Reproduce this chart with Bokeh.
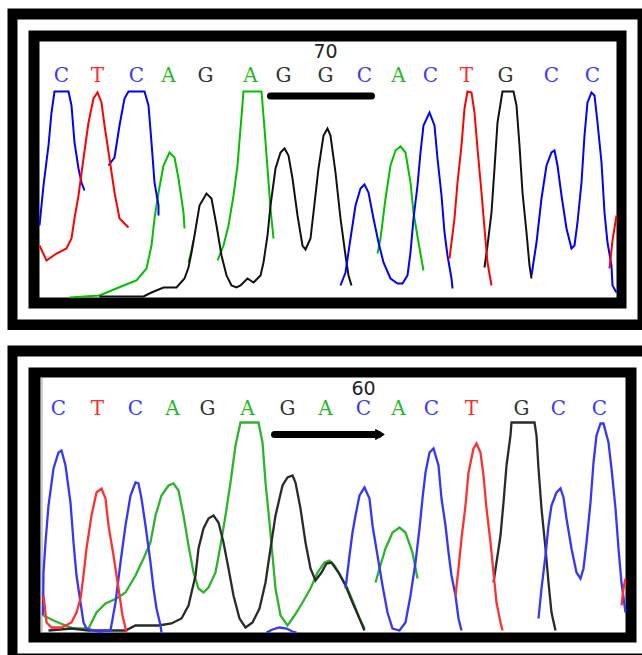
import math
from bokeh.plotting import figure
from bokeh.layouts import column
from bokeh.models import Range1d
from bokeh.embed import file_html
from bokeh.resources import INLINE
from bokeh.core.properties import value

# ================= DATA =================
# x = scan position, y = signal above baseline
# ---- upper chromatogram (position 70) ----
top_bases = list("CTCAGAGGCACTGCC")
top_base_x = [61, 97, 136, 168, 205, 250, 283, 325, 364, 398, 430, 466, 505, 551, 592]
top_label = "70"
top_label_x = 325
top_arrow_x = [270, 371]

top_c_x = [[39, 43, 48, 51, 54, 68, 71, 74, 78, 81, 84],
           [108, 114, 119, 124, 128, 144, 148, 151, 154, 158, 158],
           [340, 345, 350, 355, 360, 364, 368, 373, 378, 383, 390, 397, 402, 407, 410, 413, 417, 420, 423, 429, 434, 437, 441, 444, 447, 451, 452],
           [531, 536, 541, 546, 551, 554, 557, 561, 566, 571, 574, 577, 581, 584, 587, 591, 594, 597, 601, 604, 607, 611, 612, 616]]
top_c_y = [[72, 112, 152, 185, 206, 206, 192, 155, 129, 115, 107],
           [132, 140, 172, 199, 206, 206, 192, 155, 115, 92, 82],
           [12, 25, 59, 92, 109, 113, 105, 79, 55, 35, 19, 14, 14, 22, 45, 79, 112, 145, 172, 185, 172, 139, 102, 65, 42, 19, 9],
           [22, 55, 99, 132, 145, 147, 132, 102, 69, 49, 52, 75, 115, 162, 195, 205, 202, 175, 135, 85, 55, 32, 12, 5]]

top_t_x = [[39, 46, 56, 66, 71, 74, 78, 83, 88, 93, 97, 101, 104, 109, 114, 119, 128],
           [449, 454, 457, 461, 464, 467, 471, 474, 477, 481, 484, 487, 491],
           [609, 612, 616]]
top_t_y = [[52, 37, 44, 49, 59, 79, 102, 139, 175, 199, 205, 195, 172, 139, 105, 79, 70],
           [39, 79, 115, 152, 189, 206, 205, 185, 149, 105, 69, 35, 12],
           [29, 57, 82]]

top_a_x = [[69, 99, 123, 136, 146, 151, 154, 158, 163, 169, 174, 178, 183, 184],
           [188, 191, 193],
           [217, 223, 228, 233, 237, 240, 243, 261, 264, 267, 270, 273],
           [377, 380, 385, 390, 395, 400, 405, 410, 413, 418, 423]]
top_a_y = [[0, 2, 12, 17, 29, 52, 79, 105, 132, 145, 140, 119, 85, 69],
           [35, 47, 57],
           [37, 52, 72, 102, 132, 169, 206, 206, 169, 129, 89, 59],
           [44, 59, 99, 132, 147, 151, 145, 115, 85, 55, 27]]

top_g_x = [[99, 143, 151, 163, 176, 184, 188, 191, 194, 199, 206, 211, 216, 221, 226, 231, 236, 240, 247, 253,
            260, 263, 267, 270, 275, 280, 284, 288, 292, 297, 302, 305, 310, 313, 318, 323, 327, 330, 335, 340,
            345, 348, 351],
           [484, 487, 491, 494, 497, 501, 502, 513, 516, 519, 522, 526, 529, 531]]
top_g_y = [[1, 1, 5, 10, 10, 19, 30, 45, 62, 92, 104, 99, 72, 42, 22, 12, 10, 12, 19, 15,
            22, 35, 62, 92, 129, 145, 149, 142, 119, 82, 52, 48, 59, 85, 129, 162, 169, 162, 125, 79,
            42, 22, 12],
           [30, 52, 85, 129, 175, 200, 206, 206, 192, 152, 105, 65, 32, 19]]

# ---- lower chromatogram (position 60) ----
bot_bases = list("CTCAGAGACACTGCC")
bot_base_x = [58, 97, 135, 172, 207, 247, 287, 325, 363, 398, 431, 471, 521, 558, 599]
bot_label = "60"
bot_label_x = 363
bot_arrow_x = [274, 378]

bot_c_x = [[42.5, 43, 45, 48, 53, 58, 61, 65, 70, 73, 76, 80, 83, 86, 98, 110, 115, 120, 125, 130,
            135, 138, 141, 145, 150, 153, 156, 160, 161],
           [266, 272, 279, 286, 292, 296],
           [345, 349, 352, 355, 359, 364, 369, 372, 377, 382, 387, 392, 399, 405, 410, 415, 419, 422, 425, 429,
            433, 438, 441, 445, 448, 451, 455, 458, 461],
           [538, 541, 545, 548, 551, 556, 560, 563, 566, 571, 576, 580, 583, 586, 590, 593, 596, 600, 603, 608,
            611, 615, 618, 621, 625]]
bot_c_y = [[17, 60, 90, 127, 164, 180, 182, 167, 130, 90, 57, 30, 10, 4, 1, 2, 30, 70, 107, 137,
            150, 149, 134, 107, 70, 44, 24, 7, 0],
           [0, 3, 5, 4, 1, 0],
           [44, 77, 100, 117, 137, 145, 134, 107, 77, 47, 20, 4, 2, 10, 37, 70, 104, 134, 160, 180,
            184, 167, 134, 107, 80, 57, 37, 14, 2],
           [14, 44, 77, 107, 127, 140, 144, 135, 114, 84, 60, 54, 64, 90, 130, 170, 197, 209, 209, 190,
            164, 124, 84, 50, 20]]

bot_t_x = [[43, 46, 51, 61, 71, 76, 80, 83, 86, 91, 96, 101, 105, 108, 113, 118, 122, 126],
           [455, 458, 461, 465, 468, 473, 476, 480, 483, 486, 490, 493, 496, 500, 502],
           [621, 623, 625]]
bot_t_y = [[37, 10, 5, 5, 10, 20, 34, 57, 84, 117, 140, 144, 134, 107, 77, 44, 17, 0],
           [37, 64, 94, 127, 160, 184, 189, 180, 157, 124, 90, 60, 30, 10, 2],
           [27, 44, 54]]

bot_a_x = [[43, 53, 65, 73, 88, 96, 105, 116, 125, 135, 143, 150, 155, 161, 168, 173, 178, 183, 188, 193,
            198, 203, 208, 215, 220, 225, 230, 235, 240, 258, 262, 265, 269, 272, 275, 280, 287, 294, 302, 310,
            317, 324, 329, 334, 340, 347, 354, 359, 364],
           [375, 379, 385, 392, 399, 405, 412, 417]]
bot_a_y = [[17, 12, 7, 4, 4, 20, 29, 34, 40, 57, 74, 90, 117, 137, 147, 149, 142, 117, 87, 60,
            44, 40, 45, 60, 87, 117, 150, 187, 210, 210, 190, 150, 110, 77, 44, 17, 7, 17, 30, 44,
            60, 70, 72, 67, 57, 44, 27, 14, 4],
           [50, 64, 84, 100, 105, 100, 80, 54]]

bot_g_x = [[48, 71, 88, 125, 135, 145, 158, 171, 181, 188, 195, 198, 203, 208, 213, 218, 223, 228, 233, 239,
            245, 252, 259, 265, 270, 275, 282, 287, 292, 295, 300, 305, 310, 315, 321, 326, 331, 338, 345, 352,
            359, 364],
           [493, 496, 500, 503, 506, 510, 511, 534, 536, 538, 541, 545, 548, 551, 555]]
bot_g_y = [[2, 4, 2, 2, 7, 7, 7, 9, 14, 27, 57, 84, 104, 114, 117, 110, 90, 64, 37, 14,
            5, 10, 24, 50, 84, 117, 147, 155, 157, 150, 124, 90, 64, 52, 60, 69, 70, 60, 47, 30,
            14, 2],
           [50, 70, 97, 130, 167, 197, 210, 210, 197, 164, 124, 84, 50, 20, 2]]

# ================= STYLE =================
TRACE_COLORS = {"C": "#0000ff", "T": "#ff0000", "A": "#00c000", "G": "#111111"}
BOT_TRACE_COLORS = {"C": "#3535ff", "T": "#ff3030", "A": "#2cb42c", "G": "#2a2a2a"}
LETTER_COLORS = {"C": "#3a3aff", "T": "#ff2a2a", "A": "#22b822", "G": "#333333"}

W = 642


def make_panel(height, y_range, frames, traces, trace_colors, bases, base_x,
               letter_y, label, label_x, label_y, arrow_x, arrow_y, arrow_head,
               line_w, grey_line=None):
    p = figure(width=W, height=height, x_range=Range1d(0, W), y_range=Range1d(*y_range),
               output_backend="svg", toolbar_location=None, min_border=0,
               x_axis_location=None, y_axis_location=None)
    p.grid.visible = False
    p.outline_line_color = None
    p.background_fill_color = "white"
    p.border_fill_color = "white"
    # double frame
    for (l, r, t, b, c) in frames:
        p.quad(left=[l], right=[r], top=[t], bottom=[b], fill_color=c, line_color=None)
    if grey_line is not None:
        p.line(x=[grey_line[0]] * 2, y=[grey_line[1], grey_line[2]], line_color="#9a9a9a", line_width=1)
    # traces
    for base, (xs, ys) in traces.items():
        p.multi_line(xs=xs, ys=ys, line_color=trace_colors[base], line_width=line_w,
                     line_join="miter")
    # base calls
    p.text(x=base_x, y=[letter_y] * len(bases), text=bases,
           text_color=[LETTER_COLORS[b] for b in bases],
           text_font=value("DejaVu Serif"), text_font_size="20px",
           text_align="center", text_baseline="middle")
    p.text(x=[label_x], y=[label_y], text=[label], text_color="#222222",
           text_font=value("DejaVu Sans"), text_font_size="19px",
           text_align="center", text_baseline="middle")
    # marker bar
    p.line(x=arrow_x, y=[arrow_y, arrow_y], line_color="black", line_width=7, line_cap="round")
    if arrow_head:
        p.scatter(x=[arrow_x[1]], y=[arrow_y], marker="triangle", size=10,
                  angle=-math.pi / 2, fill_color="black", line_color="black")
    return p


top_frames = [(7, 700, 289, -40, "black"),
              (17, 637, 278, -22, "white"),
              (28, 626, 267, -11, "black"),
              (39, 616, 256, 0, "white")]
bot_frames = [(7, 700, 287, -40, "black"),
              (17, 646, 276, -21, "white"),
              (28, 636, 265, -10, "black"),
              (40, 625, 255, 0, "white")]

p1 = make_panel(330, (-33, 297), top_frames,
                {"A": (top_a_x, top_a_y), "G": (top_g_x, top_g_y),
                 "C": (top_c_x, top_c_y), "T": (top_t_x, top_t_y)},
                TRACE_COLORS, top_bases, top_base_x, 222.5,
                top_label, top_label_x, 247, top_arrow_x, 201.5, False, 2.0)

p2 = make_panel(325, (-23, 302), bot_frames,
                {"A": (bot_a_x, bot_a_y), "G": (bot_g_x, bot_g_y),
                 "C": (bot_c_x, bot_c_y), "T": (bot_t_x, bot_t_y)},
                BOT_TRACE_COLORS, bot_bases, bot_base_x, 225,
                bot_label, bot_label_x, 245, bot_arrow_x, 198, True, 2.3,
                grey_line=(41.5, 0, 255))

layout = column(p1, p2, spacing=0)
open("out.html", "w").write(file_html(layout, INLINE))
